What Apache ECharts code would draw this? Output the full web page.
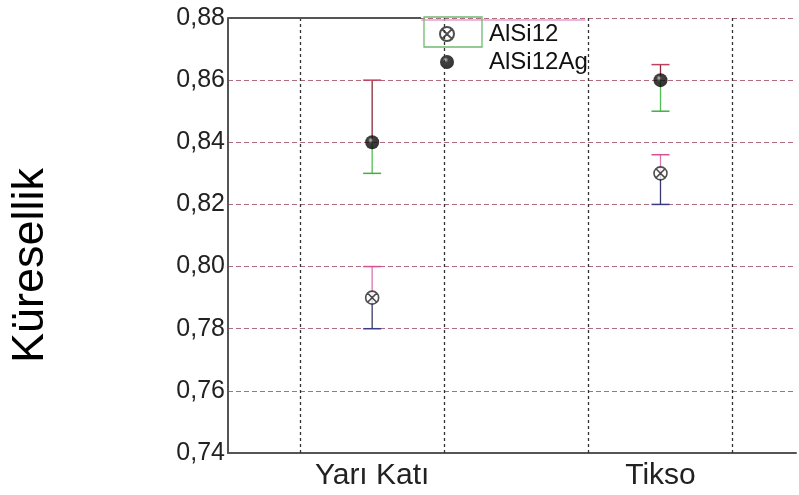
<!DOCTYPE html>
<html>
<head>
<meta charset="utf-8">
<script src="https://cdn.jsdelivr.net/npm/echarts@6/dist/echarts.min.js"></script>
<style>html,body{margin:0;padding:0;background:#fff;}#c{width:799px;height:495px;}</style>
</head>
<body>
<div id="c"></div>
<script>
const categories = ['Yarı Katı', 'Tikso'];
const categoryPos = [1, 2];
const yTicks = [0.74, 0.76, 0.78, 0.80, 0.82, 0.84, 0.86, 0.88];
const alsi12 = [0.79, 0.83];
const alsi12Low = [0.78, 0.82];
const alsi12High = [0.80, 0.836];
const alsi12ag = [0.84, 0.86];
const alsi12agLow = [0.83, 0.85];
const alsi12agHigh = [0.86, 0.865];
const vGrid = [0.75, 1.25, 1.75, 2.25];

const chart = echarts.init(document.getElementById('c'));
const FONT = 'Liberation Sans, Arial, sans-serif';

function errData(vals, lows, highs) {
  return categoryPos.map((x, i) => [x, vals[i], lows[i], highs[i]]);
}
function errRender(upColor, upCap, lowColor, lowCap) {
  return function (params, api) {
    const x = api.value(0);
    const pv = api.coord([x, api.value(1)]);
    const pl = api.coord([x, api.value(2)]);
    const ph = api.coord([x, api.value(3)]);
    const hw = 9;
    return {
      type: 'group',
      children: [
        {type: 'line', shape: {x1: pv[0], y1: pv[1], x2: ph[0], y2: ph[1]}, style: {stroke: upColor, lineWidth: 1.3}},
        {type: 'line', shape: {x1: ph[0] - hw, y1: ph[1], x2: ph[0] + hw, y2: ph[1]}, style: {stroke: upCap, lineWidth: 1.5}},
        {type: 'line', shape: {x1: pv[0], y1: pv[1], x2: pl[0], y2: pl[1]}, style: {stroke: lowColor, lineWidth: 1.3}},
        {type: 'line', shape: {x1: pl[0] - hw, y1: pl[1], x2: pl[0] + hw, y2: pl[1]}, style: {stroke: lowCap, lineWidth: 1.5}}
      ]
    };
  };
}

const crossCircle = 'path://M10,0 A10,10 0 1,1 -10,0 A10,10 0 1,1 10,0 Z M-7,-7 L7,7 M7,-7 L-7,7';

const option = {
  backgroundColor: '#fff',
  animation: false,
  grid: {left: 225, top: 18, right: 0, bottom: 42, containLabel: false},
  legend: {
    orient: 'vertical',
    left: 434,
    top: 17,
    itemWidth: 50,
    itemHeight: 14,
    itemGap: 4,
    textStyle: {fontFamily: FONT, fontSize: 24, color: '#111', padding: [0, 0, 0, 12]},
    data: ['AlSi12', 'AlSi12Ag']
  },
  xAxis: {
    type: 'value',
    min: 0.5,
    max: 2.47,
    interval: 0.5,
    axisLine: {show: true, onZero: false, lineStyle: {color: '#555', width: 2}},
    axisTick: {show: false},
    splitLine: {show: false},
    axisLabel: {
      fontFamily: FONT, fontSize: 30, color: '#222', margin: 8,
      formatter: function (v) {
        const i = categoryPos.findIndex(p => Math.abs(p - v) < 1e-6);
        return i >= 0 ? categories[i] : '';
      }
    }
  },
  yAxis: {
    type: 'value',
    min: 0.74,
    max: 0.88,
    interval: 0.02,
    name: 'Küresellik',
    nameLocation: 'middle',
    nameRotate: 90,
    nameGap: 175,
    nameTextStyle: {fontFamily: FONT, fontSize: 45, color: '#000', padding: [0, 60, 0, 0]},
    axisLine: {show: true, lineStyle: {color: '#555', width: 2}},
    axisTick: {show: false},
    axisLabel: {
      fontFamily: FONT, fontSize: 25, color: '#222', margin: 3,
      formatter: function (v) {
        const t = yTicks.find(p => Math.abs(p - v) < 1e-6);
        return t !== undefined ? t.toFixed(2).replace('.', ',') : '';
      }
    },
    splitLine: {show: true, lineStyle: {color: '#b06c7c', type: [5, 3], width: 1.2}}
  },
  series: [
    {
      type: 'line',
      data: [],
      silent: true,
      markLine: {
        silent: true,
        symbol: 'none',
        label: {show: false},
        lineStyle: {color: '#333', type: [3, 3], width: 1.3},
        data: vGrid.map(x => ({xAxis: x}))
      }
    },
    {
      type: 'line',
      data: [],
      silent: true,
      markLine: {
        silent: true,
        symbol: 'none',
        label: {show: false},
        data: [
          [{coord: [0.5, 0.88], lineStyle: {color: '#555', width: 2, type: 'solid'}}, {coord: [1.17, 0.88]}],
          [{coord: [1.17, 0.8795], lineStyle: {color: '#e0a0d0', width: 1.5, type: 'solid'}}, {coord: [1.74, 0.8795]}]
        ]
      }
    },
    {
      name: 'AlSi12-err',
      type: 'custom',
      renderItem: errRender('#d878b0', '#d85090', '#3a3a6a', '#3a3a8a'),
      data: errData(alsi12, alsi12Low, alsi12High),
      encode: {x: 0, y: [1, 2, 3]},
      z: 3
    },
    {
      name: 'AlSi12Ag-err',
      type: 'custom',
      renderItem: errRender('#8a2a3a', '#c04060', '#50c050', '#40b040'),
      data: errData(alsi12ag, alsi12agLow, alsi12agHigh),
      encode: {x: 0, y: [1, 2, 3]},
      z: 3
    },
    {
      name: 'AlSi12',
      type: 'scatter',
      symbol: crossCircle,
      symbolSize: 13,
      itemStyle: {color: '#fff', borderColor: '#222', borderWidth: 1.6},
      data: categoryPos.map((x, i) => [x, alsi12[i]]),
      z: 5
    },
    {
      name: 'AlSi12Ag',
      type: 'scatter',
      symbol: 'circle',
      symbolSize: 14,
      itemStyle: {
        color: {type: 'radial', x: 0.4, y: 0.35, r: 0.65, colorStops: [
          {offset: 0, color: '#bbb'}, {offset: 0.3, color: '#111'}, {offset: 1, color: '#000'}]}
      },
      data: categoryPos.map((x, i) => [x, alsi12ag[i]]),
      z: 5
    }
  ],
  graphic: [
    {type: 'rect', shape: {x: 424, y: 17, width: 58, height: 30}, style: {fill: 'none', stroke: '#70b870', lineWidth: 1.3}, z: 10}
  ]
};
chart.setOption(option);
</script>
</body>
</html>
